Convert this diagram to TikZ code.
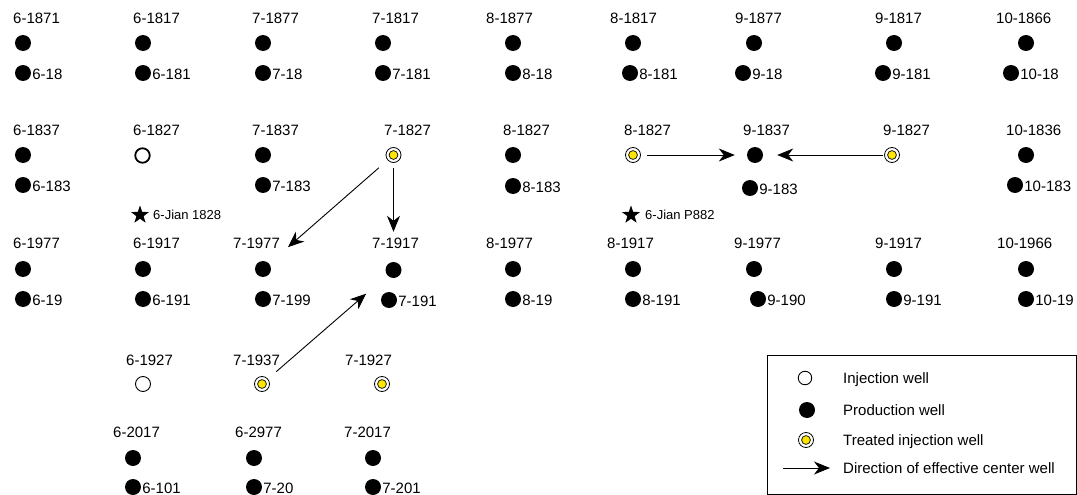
\documentclass[tikz,border=0pt]{standalone}
\usepackage{fontspec}
\setmainfont{Liberation Sans}
\usetikzlibrary{arrows.meta,shapes.geometric}
\definecolor{wellyellow}{RGB}{255,230,0}
\tikzset{
  prod/.style={circle,fill=black,inner sep=0pt,minimum size=16pt},
  injthick/.style={circle,draw,line width=1.8pt,inner sep=0pt,minimum size=14.5pt},
  injthin/.style={circle,draw,line width=0.9pt,inner sep=0pt,minimum size=15pt},
  treated/.style={circle,draw,line width=0.8pt,inner sep=0pt,minimum size=15pt,
    path picture={\filldraw[fill=wellyellow,line width=0.7pt] (path picture bounding box.center) circle (4.4pt);}},
  lbl/.style={anchor=west,inner sep=0pt,font=\fontsize{15}{17}\selectfont},
  blbl/.style={anchor=west,inner sep=0pt,font=\fontsize{15}{17}\selectfont,xshift=1pt,yshift=-1.5pt},
  starlbl/.style={anchor=west,inner sep=0pt,font=\fontsize{13}{15}\selectfont},
  wstar/.style={star,star points=5,star point ratio=2.5,fill=black,inner sep=0pt,minimum size=19pt},
  arr/.style={-{Stealth[length=16pt,width=13pt,inset=5pt]},line width=0.9pt},
  legtxt/.style={anchor=west,inner sep=0pt,text depth=0pt,font=\fontsize{15}{17}\selectfont},
}
\begin{document}
\begin{tikzpicture}[x=1pt,y=-1pt]
\useasboundingbox (0,0) rectangle (1077,495);
% production wells with their companion wells
\foreach \n/\lx/\ly/\dx/\dy/\bx/\by/\bt in {
 6-1871/13/18/23/43/23/73/6-18,
 6-1817/133/18/143/43/143/73/6-181,
 7-1877/252/18/263/43/263/73/7-18,
 7-1817/372/18/383/43/383/73/7-181,
 8-1877/486/18/513/43/513/73/8-18,
 8-1817/610/18/633/43/630/73/8-181,
 9-1877/735/18/754/43/743/73/9-18,
 9-1817/875/18/894/43/883/73/9-181,
 10-1866/996/18/1026/43/1011/73/10-18,
 6-1837/13/130/23/155/23/185/6-183,
 7-1837/252/130/263/155/263/185/7-183,
 8-1827/503/130/513/155/513/186/8-183,
 9-1837/743/130/755/155/750/188/9-183,
 10-1836/1006/130/1026/155/1015/185/10-183,
 6-1977/13/243/23/269/23/299/6-19,
 6-1917/133/243/143/269/143/299/6-191,
 7-1977/233/243/263/269/263/299/7-199,
 7-1917/372/243/393.5/270/389/300/7-191,
 8-1977/486/243/513/269/513/299/8-19,
 8-1917/607/243/633/269/633/299/8-191,
 9-1977/734/243/754/269/758/299/9-190,
 9-1917/875/243/894/269/894/299/9-191,
 10-1966/997/243/1026/269/1026/299/10-19,
 6-2017/113/432/133/458/133/487/6-101,
 6-2977/235/432/254/458/254/487/7-20,
 7-2017/344/432/373/458/373/487/7-201}
{
  \node[lbl] (l\n) at (\lx,\ly) {\n};
  \node[prod] (p\n) at (\dx,\dy) {};
  \node[prod] (q\bt) at (\bx,\by) {};
  \node[blbl] (m\bt) at (q\bt.east) {\bt};
}
% injection wells
\node[lbl] (l6-1827) at (133,130) {6-1827};
\node[injthick] (i6-1827) at (142.5,155.5) {};
\node[lbl] (l6-1927) at (126,360) {6-1927};
\node[injthin] (i6-1927) at (143,384) {};
% treated injection wells
\node[lbl] (l7-1827) at (384,130) {7-1827};
\node[treated] (t7-1827) at (393.5,155) {};
\node[lbl] (lt8-1827) at (624,130) {8-1827};
\node[treated] (t8-1827) at (633,155) {};
\node[lbl] (l9-1827) at (883,130) {9-1827};
\node[treated] (t9-1827) at (892,155) {};
\node[lbl] (l7-1937) at (233,360) {7-1937};
\node[treated] (t7-1937) at (262,384) {};
\node[lbl] (l7-1927) at (345,360) {7-1927};
\node[treated] (t7-1927) at (382,384) {};
% stars
\node[wstar] (s1) at (140,215) {};
\node[starlbl] (s1l) at (153,215) {6-Jian 1828};
\node[wstar] (s2) at (631,215) {};
\node[starlbl] (s2l) at (645,215) {6-Jian P882};
% direction arrows
\draw[arr,shorten <=5pt,shorten >=30pt] (t7-1827) -- (p7-1917);
\draw[arr,shorten <=11.5pt,shorten >=25pt] (t7-1827) -- (p7-1977);
\draw[arr,shorten <=11pt,shorten >=28pt] (t7-1937) -- (p7-1917);
\draw[arr,shorten <=6pt,shorten >=12pt] (t8-1827) -- (p9-1837);
\draw[arr,shorten <=1pt,shorten >=14pt] (t9-1827) -- (p9-1837);
% legend
\node[draw,line width=0.8pt,minimum width=309pt,minimum height=139pt,inner sep=0pt,anchor=north west] (legend) at (767,355) {};
\node[injthin,minimum size=13.5pt] (lg1) at (805,378) {};
\node[legtxt] (lg1t) at (843,378) {Injection well};
\node[prod] (lg2) at (807,410) {};
\node[legtxt] (lg2t) at (843,410) {Production well};
\node[treated] (lg3) at (806,440) {};
\node[legtxt] (lg3t) at (843,440) {Treated injection well};
\coordinate (la1) at (783,468);
\coordinate (la2) at (830,468);
\draw[arr] (la1) -- (la2);
\node[legtxt] (lg4t) at (843,468) {Direction of effective center well};
\end{tikzpicture}
\end{document}
